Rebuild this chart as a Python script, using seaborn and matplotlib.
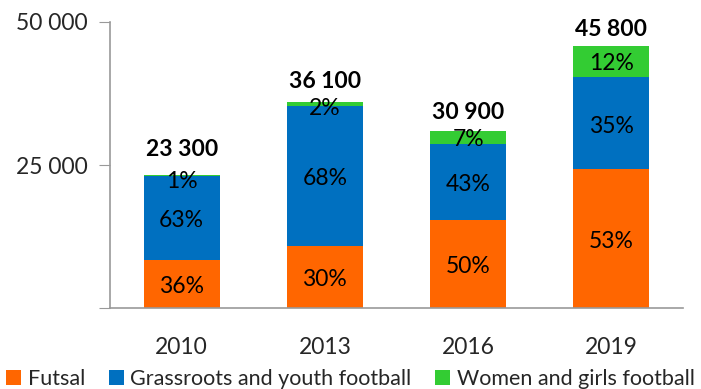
import matplotlib
matplotlib.use("Agg")
import matplotlib.pyplot as plt
from matplotlib.patches import Patch
import seaborn as sns
import numpy as np
import pandas as pd

years = ["2010", "2013", "2016", "2019"]
futsal = [8400, 10800, 15450, 24300]
grassroots = [14700, 24550, 13300, 16000]
women = [200, 750, 2150, 5500]
totals = [23300, 36100, 30900, 45800]
futsal_pct = ["36%", "30%", "50%", "53%"]
grassroots_pct = ["63%", "68%", "43%", "35%"]
women_pct = ["1%", "2%", "7%", "12%"]
series_names = ["Futsal", "Grassroots and youth football", "Women and girls football"]
colors = ["#FF6600", "#0070C0", "#33CC33"]
yticks = [0, 25000, 50000]
ytick_labels = ["", "25 000", "50 000"]

# label placement styling (pixels above bar top for totals)
total_offsets_px = [25, 20.5, 18.5, 17]

sns.set_style("white")
plt.rcParams["font.family"] = ["Lato", "DejaVu Sans"]

DPI = 100
fig = plt.figure(figsize=(7.01, 3.89), dpi=DPI)
ax_h_px = 308 - 22
ax = fig.add_axes([110 / 701, 1 - 308 / 389, (683 - 110) / 701, ax_h_px / 389])

df = pd.DataFrame({"year": years, "f": futsal, "g": grassroots, "w": women})
df["fg"] = df["f"] + df["g"]
df["fgw"] = df["fg"] + df["w"]

for col, c in zip(["fgw", "fg", "f"], [colors[2], colors[1], colors[0]]):
    sns.barplot(data=df, x="year", y=col, color=c, width=0.53, ax=ax,
                saturation=1, linewidth=0, order=years)

FS = 16.5
YMAX = 50000
ax.set_xlim(-0.5, 3.5)
ax.set_ylim(0, YMAX)
ax.set_xlabel("")
ax.set_ylabel("")
ax.set_yticks(yticks)
ax.set_yticklabels(ytick_labels, fontsize=FS)
ax.set_xticks(range(len(years)))
ax.set_xticklabels(years, fontsize=FS)
ax.set_xticks(np.arange(-0.5, 4, 1.0), minor=True)
ax.tick_params(axis="x", which="major", length=0, pad=21)
ax.tick_params(axis="x", which="minor", length=6, color="#999999", direction="out")
ax.tick_params(axis="y", length=8, color="#999999", direction="out", pad=8, left=True)
for s in ["top", "right"]:
    ax.spines[s].set_visible(False)
for s in ["left", "bottom"]:
    ax.spines[s].set_color("#999999")
    ax.spines[s].set_linewidth(1.2)
ax.grid(False)

px2pt = 72.0 / DPI
for i in range(len(years)):
    f, g, w = futsal[i], grassroots[i], women[i]
    ax.annotate(futsal_pct[i], (i, f / 2), xytext=(0, -2), textcoords="offset points",
                ha="center", va="center", fontsize=FS, color="black")
    ax.annotate(grassroots_pct[i], (i, f + g / 2), xytext=(0, -2), textcoords="offset points",
                ha="center", va="center", fontsize=FS, color="black")
    half_px = w / YMAX * ax_h_px / 2
    drop_px = max(half_px + 2, 7)
    ax.annotate(women_pct[i], (i, f + g + w), xytext=(0, -drop_px * px2pt),
                textcoords="offset points", ha="center", va="center",
                fontsize=FS, color="black")
    ax.annotate(f"{totals[i]:,}".replace(",", " "), (i, f + g + w),
                xytext=(0, total_offsets_px[i] * px2pt),
                textcoords="offset points", ha="center", va="center",
                fontsize=FS, fontweight="bold", color="black")

handles = [Patch(facecolor=c, edgecolor="none") for c in colors]
fig.legend(handles, series_names, loc="lower center", bbox_to_anchor=(0.5, -0.05),
           ncol=3, frameon=False, fontsize=15.5, handlelength=0.7, handleheight=0.7,
           handletextpad=0.3, columnspacing=1.1)

fig.savefig("out.png", dpi=DPI)
